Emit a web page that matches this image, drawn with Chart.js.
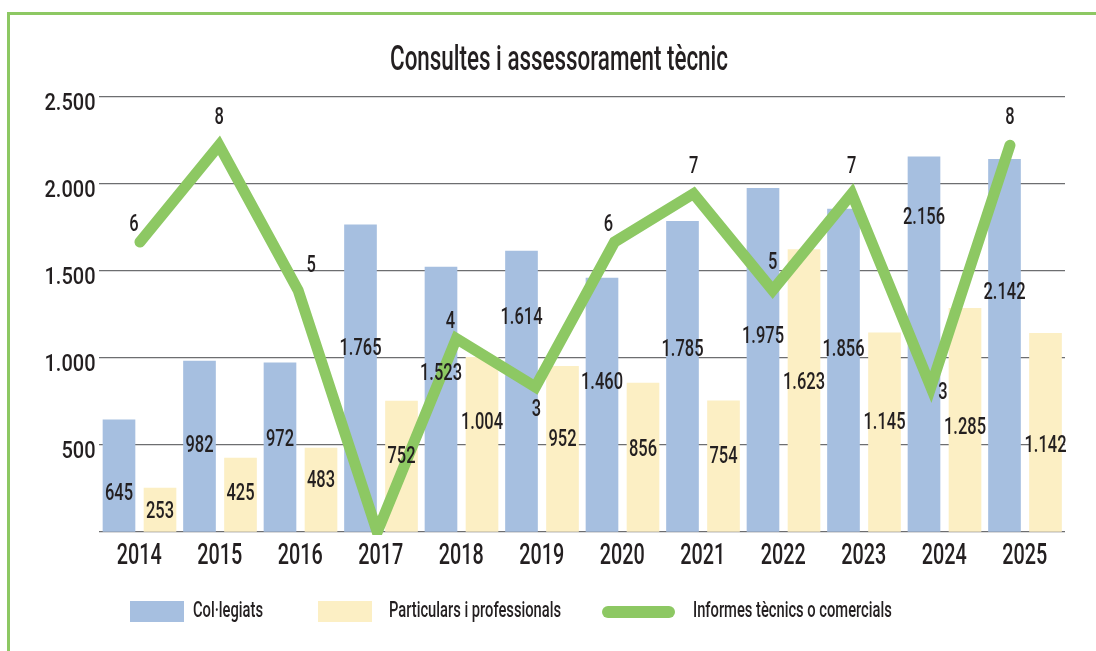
<!DOCTYPE html>
<html><head><meta charset="utf-8">
<script src="https://cdn.jsdelivr.net/npm/chart.js@4.4.1/dist/chart.umd.min.js"></script>
<style>
html,body{margin:0;padding:0;background:#fff;}
#wrap{position:relative;width:1096px;height:651px;overflow:hidden;background:#fff;}
#frame{position:absolute;left:7px;top:12px;width:1200px;height:800px;border-left:3px solid #8dc863;border-top:3px solid #8dc863;}
canvas{position:absolute;left:0;top:0;}
.lg{position:absolute;font-family:Roboto,sans-serif;font-weight:500;font-size:22px;line-height:22px;color:#231f20;transform-origin:0 50%;white-space:nowrap;}
.sw{position:absolute;}
</style></head><body>
<div id="wrap">
<div id="frame"></div>
<canvas id="c" width="1096" height="651"></canvas>
<div class="sw" style="left:130px;top:601px;width:54px;height:21px;background:#a6bfe0"></div>
<div class="lg" style="left:193px;top:599px">Col·legiats</div>
<div class="sw" style="left:318px;top:601px;width:54px;height:21px;background:#fcefc4"></div>
<div class="lg" style="left:389px;top:599px">Particulars i professionals</div>
<div class="sw" style="left:602px;top:606px;width:73px;height:12px;border-radius:6px;background:#8dc863"></div>
<div class="lg" style="left:693px;top:599px">Informes tècnics o comercials</div>
</div>
<script>
// ---- data ----
const years = ['2014','2015','2016','2017','2018','2019','2020','2021','2022','2023','2024','2025'];
const colegiats = [645, 982, 972, 1765, 1523, 1614, 1460, 1785, 1975, 1856, 2156, 2142];
const particulars = [253, 425, 483, 752, 1004, 952, 856, 754, 1623, 1145, 1285, 1142];
const informes = [6, 8, 5, 0, 4, 3, 6, 7, 5, 7, 3, 8];
const yTickValues = [0, 500, 1000, 1500, 2000, 2500];

// ---- label placement (annotation layout, in axis value units / placement codes) ----
const colegiatsLabelAt = [220, 495, 530, 1050, 910, 1230, 855, 1045, 1120, 1045, 1805, 1375];
const particularsLabelAt = [115, 220, 295, 430, 625, 530, 470, 430, 855, 625, 600, 495];
const informesLabelPlace = ['nw','n','ne','','nw','s','nw','n','n','n','se','n'];
const placeOffsets = {nw:[-6,-17], n:[0,-27], ne:[13,-24], s:[1,23], se:[12,6]};

const FONT = 'Roboto, sans-serif';
const TEXT = '#231f20';

function fmt(n){
  if (n >= 1000) return Math.floor(n/1000) + '.' + String(n % 1000).padStart(3,'0');
  return String(n);
}
const byYear = arr => arr.map((v, i) => ({x: i, y: v}));

const mctx = document.createElement('canvas').getContext('2d');
function squeeze(sample, size, target){
  mctx.font = '500 ' + size + 'px ' + FONT;
  return target / mctx.measureText(sample).width;
}
const SX_LABEL = squeeze('1.765', 24, 42);
const SX_YTICK = squeeze('2.500', 24, 51);
const SX_XTICK = squeeze('2014', 29, 45);
const SX_TITLE = squeeze('Consultes i assessorament tècnic', 35, 338);
const SX_LEGEND = squeeze('Particulars i professionals', 22, 172);
document.querySelectorAll('.lg').forEach(el => el.style.transform = 'scaleX(' + SX_LEGEND + ')');

function txt(ctx, s, x, y, size, sx, align, baseline){
  ctx.save();
  ctx.font = '500 ' + size + 'px ' + FONT;
  ctx.fillStyle = TEXT;
  ctx.textAlign = align || 'center';
  ctx.textBaseline = baseline || 'middle';
  ctx.translate(x, y);
  ctx.scale(sx, 1);
  ctx.fillText(s, 0, 0);
  ctx.restore();
}

const labelsPlugin = {
  id: 'labelsPlugin',
  afterDatasetsDraw(chart){
    const ctx = chart.ctx, ys = chart.scales.y, xs = chart.scales.x;
    [[0, colegiats, colegiatsLabelAt], [1, particulars, particularsLabelAt]].forEach(([di, vals, at]) => {
      chart.getDatasetMeta(di).data.forEach((bar, i) => {
        txt(ctx, fmt(vals[i]), bar.x, ys.getPixelForValue(at[i]), 24, SX_LABEL);
      });
    });
    chart.getDatasetMeta(2).data.forEach((pt, i) => {
      const p = placeOffsets[informesLabelPlace[i]];
      if (!p) return;
      txt(ctx, String(informes[i]), pt.x + p[0], pt.y + p[1], 24, SX_LABEL);
    });
    ys.ticks.forEach(t => {
      if (t.value === 0) return;
      txt(ctx, fmt(t.value), chart.chartArea.left - 3.5, ys.getPixelForValue(t.value) + 6.5, 24, SX_YTICK, 'right');
    });
    xs.ticks.forEach((t, i) => {
      txt(ctx, xs.getLabelForValue(t.value), xs.getPixelForTick(i), chart.chartArea.bottom + 32, 29, SX_XTICK, 'center', 'alphabetic');
    });
  },
  afterDraw(chart){
    txt(chart.ctx, 'Consultes i assessorament tècnic', 559, 70, 35, SX_TITLE, 'center', 'alphabetic');
  }
};

new Chart(document.getElementById('c'), {
  data: {
    labels: years,
    datasets: [
      { type:'bar', label:'Col·legiats', data: byYear(colegiats), xAxisID:'xBlue', yAxisID:'y',
        backgroundColor:'#a6bfe0', borderWidth:0, grouped:false, barThickness:32, order:1 },
      { type:'bar', label:'Particulars i professionals', data: byYear(particulars), xAxisID:'xYellow', yAxisID:'y',
        backgroundColor:'#fcefc4', borderWidth:0, grouped:false, barThickness:32, order:1 },
      { type:'line', label:'Informes tècnics o comercials', data: byYear(informes),
        xAxisID:'xLine', yAxisID:'y2', borderColor:'#8dc863', borderWidth:11,
        borderCapStyle:'round', borderJoinStyle:'miter', pointRadius:0, tension:0,
        fill:false, order:0, clip:{left:false, top:false, right:false, bottom:3} }
    ]
  },
  options: {
    responsive:false, animation:false, devicePixelRatio:1,
    layout:{ padding:{ left:0, right:31, top:97, bottom:79 } },
    plugins:{ legend:{display:false}, tooltip:{enabled:false}, title:{display:false} },
    scales:{
      x:{
        type:'category', offset:true,
        grid:{display:false}, border:{display:false},
        ticks:{ display:false },
        afterFit(s){ s.height = 40; }
      },
      xBlue:{ type:'linear', display:false, offset:false, min:-0.2484, max:11.7516 },
      xYellow:{ type:'linear', display:false, offset:false, min:-0.7578, max:11.2422 },
      xLine:{ type:'linear', display:false, offset:false, min:-0.518, max:11.696 },
      y:{
        type:'linear', min:0, max:2500,
        afterBuildTicks(s){ s.ticks = yTickValues.map(v => ({value:v})); },
        grid:{ color:'#6d6e70', lineWidth:1.2, drawTicks:false },
        border:{display:false},
        ticks:{ display:false },
        afterFit(s){ s.width = 99; }
      },
      y2:{ type:'linear', display:false, min:0, max:9, position:'right' }
    }
  },
  plugins:[labelsPlugin]
});
</script>
</body></html>
